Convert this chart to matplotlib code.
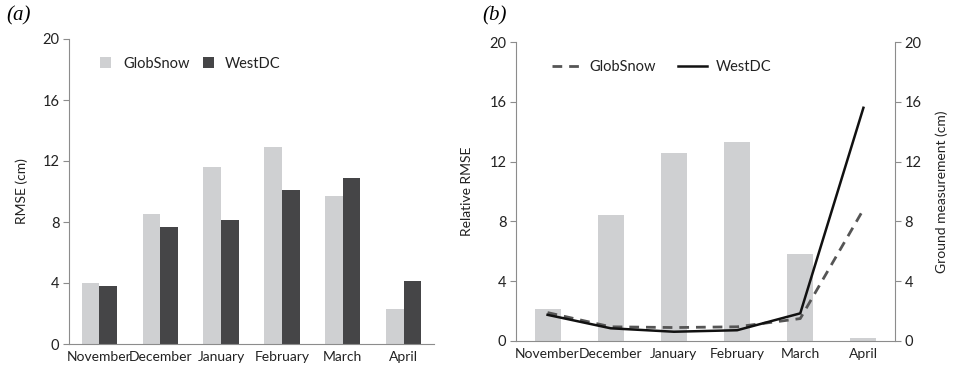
import matplotlib.pyplot as plt
import numpy as np

plt.rcParams['font.family'] = ['Lato', 'DejaVu Sans']

months = ['November', 'December', 'January', 'February', 'March', 'April']

# panel (a): RMSE (cm)
rmse_globsnow = [4.0, 8.5, 11.6, 12.95, 9.7, 2.3]
rmse_westdc = [3.8, 7.7, 8.1, 10.1, 10.9, 4.1]

# panel (b)
ground = [2.15, 8.4, 12.55, 13.3, 5.8, 0.2]
rel_globsnow = [1.9, 0.95, 0.9, 0.95, 1.5, 8.8]
rel_westdc = [1.75, 0.85, 0.62, 0.72, 1.85, 15.6]

light = '#cfd0d2'
dark = '#454547'
spine = '#8c8c8c'
txt = '#222222'

fig = plt.figure(figsize=(9.54, 3.71), dpi=100)


def style(ax):
    for s in ['top', 'right']:
        ax.spines[s].set_visible(False)
    for s in ['left', 'bottom']:
        ax.spines[s].set_color(spine)
    ax.set_ylim(0, 20)
    ax.set_yticks(range(0, 21, 4))
    ax.set_xlim(-0.5, 5.5)
    ax.set_xticks(range(6))
    ax.set_xticklabels(months)
    ax.tick_params(axis='x', length=0, labelsize=10, pad=5, labelcolor=txt)
    ax.tick_params(axis='y', length=4, color=spine, labelsize=10.5, pad=3, labelcolor=txt)


# (a)
ax1 = fig.add_axes([69 / 954, 27 / 371, 365 / 954, 305 / 371])
x = np.arange(len(months))
w = 0.29
ax1.bar(x - w / 2, rmse_globsnow, w, color=light, label='GlobSnow')
ax1.bar(x + w / 2, rmse_westdc, w, color=dark, label='WestDC')
style(ax1)
ax1.set_ylabel('RMSE (cm)', fontsize=10, labelpad=10, color=txt)
ax1.legend(loc='upper left', bbox_to_anchor=(0.05, 0.985), ncol=2, frameon=False,
           fontsize=10.5, handlelength=0.75, handleheight=0.75, handletextpad=0.8,
           columnspacing=0.9, labelcolor=txt)
fig.text(6 / 954, 1 - 16 / 371, '(a)', family='Liberation Serif', style='italic',
         fontsize=15, va='center')

# (b)
ax2 = fig.add_axes([516 / 954, 30 / 371, 379 / 954, 299 / 371])
ax2.bar(x, ground, 0.41, color=light)
style(ax2)
ax2.set_ylabel('Relative RMSE', fontsize=10, labelpad=12, color=txt)
ax3 = ax2.twinx()
ax3.plot(x, rel_globsnow, color='#555555', lw=2, ls=(0, (3.5, 2.5)), label='GlobSnow')
ax3.plot(x, rel_westdc, color='#111111', lw=1.8, label='WestDC')
ax3.set_ylim(0, 20)
ax3.set_yticks(range(0, 21, 4))
for s in ['top', 'left', 'bottom']:
    ax3.spines[s].set_visible(False)
ax3.spines['right'].set_color(spine)
ax3.tick_params(axis='y', length=4, color=spine, labelsize=10.5, pad=3, labelcolor=txt)
ax3.set_ylabel('Ground measurement (cm)', fontsize=10, labelpad=10, color=txt)
ax3.legend(loc='upper left', bbox_to_anchor=(0.06, 0.985), ncol=2, frameon=False,
           fontsize=10.5, handlelength=2.0, handletextpad=0.6, columnspacing=1.5,
           labelcolor=txt)
fig.text(482 / 954, 1 - 16 / 371, '(b)', family='Liberation Serif', style='italic',
         fontsize=15, va='center')

fig.savefig('out.png', dpi=100)
